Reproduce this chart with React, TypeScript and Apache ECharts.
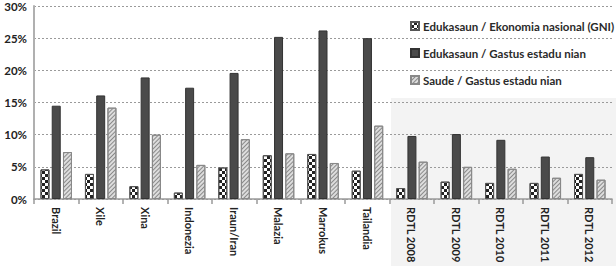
import React, { useEffect, useRef } from "react";
import * as echarts from "echarts";

const categories = [
  "Brazil", "Xile", "Xina", "Indonezia", "Iraun/Iran", "Malazia", "Marrokus", "Tailandia",
  "RDTL 2008", "RDTL 2009", "RDTL 2010", "RDTL 2011", "RDTL 2012",
];
const seriesNames = [
  "Edukasaun / Ekonomia nasional (GNI)",
  "Edukasaun / Gastus estadu nian",
  "Saude / Gastus estadu nian",
];
const eduGni = [4.6, 3.9, 2.0, 1.0, 4.9, 6.8, 7.0, 4.4, 1.7, 2.7, 2.5, 2.5, 3.9];
const eduGastus = [14.5, 16.1, 18.9, 17.3, 19.6, 25.2, 26.2, 25.0, 9.8, 10.1, 9.2, 6.6, 6.5];
const saudeGastus = [7.3, 14.2, 10.0, 5.3, 9.3, 7.1, 5.6, 11.4, 5.8, 5.0, 4.7, 3.3, 3.0];
const yTicks = [0, 5, 10, 15, 20, 25, 30];

const FONT = "Lato";

export default function App() {
  const ref = useRef<HTMLDivElement>(null);
  useEffect(() => {
    if (!ref.current) return;
    const chart = echarts.init(ref.current, undefined, { renderer: "svg" });
    chart.setOption({
      animation: false,
      backgroundColor: "#ffffff",
      graphic: [
        {
          type: "rect",
          z: -10,
          zlevel: 0,
          shape: { x: 391, y: 98, width: 230, height: 170 },
          style: { fill: "#f3f3f3" },
          silent: true,
        },
      ],
      grid: { left: 34, right: 4, top: 5, bottom: 67 },
      legend: {
        orient: "vertical",
        left: 405,
        top: 15,
        itemWidth: 8,
        itemHeight: 8,
        itemGap: 15,
        icon: "rect",
        textStyle: { fontFamily: FONT, fontWeight: "bold", fontSize: 11.5, color: "#2a2a2a", padding: [0, 0, 0, -1] },
        data: seriesNames,
      },
      xAxis: {
        type: "category",
        data: categories,
        axisLine: { lineStyle: { color: "#9a9a9a", width: 1.5 } },
        axisTick: { show: true, length: 5, lineStyle: { color: "#9a9a9a", width: 1.5 } },
        axisLabel: {
          rotate: -90,
          fontFamily: FONT,
          fontWeight: "bold",
          fontSize: 11,
          color: "#222",
          margin: 8,
          interval: 0,
        },
      },
      yAxis: {
        type: "value",
        min: 0,
        max: 30,
        interval: 5,
        axisLine: { show: true, lineStyle: { color: "#b0b0b0", width: 2 } },
        axisTick: { show: false },
        axisLabel: {
          formatter: (v: number) => (yTicks.includes(v) ? v + "%" : ""),
          fontFamily: FONT,
          fontWeight: "bold",
          fontSize: 11.5,
          color: "#222",
          margin: 7,
        },
        splitLine: { lineStyle: { color: "#9a9a9a", type: [2, 2], width: 1 } },
      },
      series: [
        {
          name: seriesNames[0],
          type: "bar",
          data: eduGni,
          barWidth: 9,
          barGap: "25%",
          itemStyle: {
            color: "#ffffff",
            borderColor: "#555",
            borderWidth: 1,
            decal: {
              symbol: "rect",
              symbolSize: 1,
              color: "#222",
              dashArrayX: [[3, 3], [0, 3, 3, 0]],
              dashArrayY: [3, 0],
              rotation: 0,
            },
          },
        },
        {
          name: seriesNames[1],
          type: "bar",
          data: eduGastus,
          barWidth: 9,
          barGap: "25%",
          itemStyle: { color: "#4a4a4a", borderColor: "#333", borderWidth: 1 },
        },
        {
          name: seriesNames[2],
          type: "bar",
          data: saudeGastus,
          barWidth: 9,
          barGap: "25%",
          itemStyle: {
            color: "#dddddd",
            borderColor: "#888",
            borderWidth: 1,
            decal: {
              symbol: "rect",
              symbolSize: 1,
              color: "#8a8a8a",
              dashArrayX: [1, 0],
              dashArrayY: [1, 2],
              rotation: -Math.PI / 4,
            },
          },
        },
      ],
    });
    return () => chart.dispose();
  }, []);
  return <div ref={ref} style={{ width: 616, height: 266, position: "absolute", left: 0, top: 0 }} />;
}
